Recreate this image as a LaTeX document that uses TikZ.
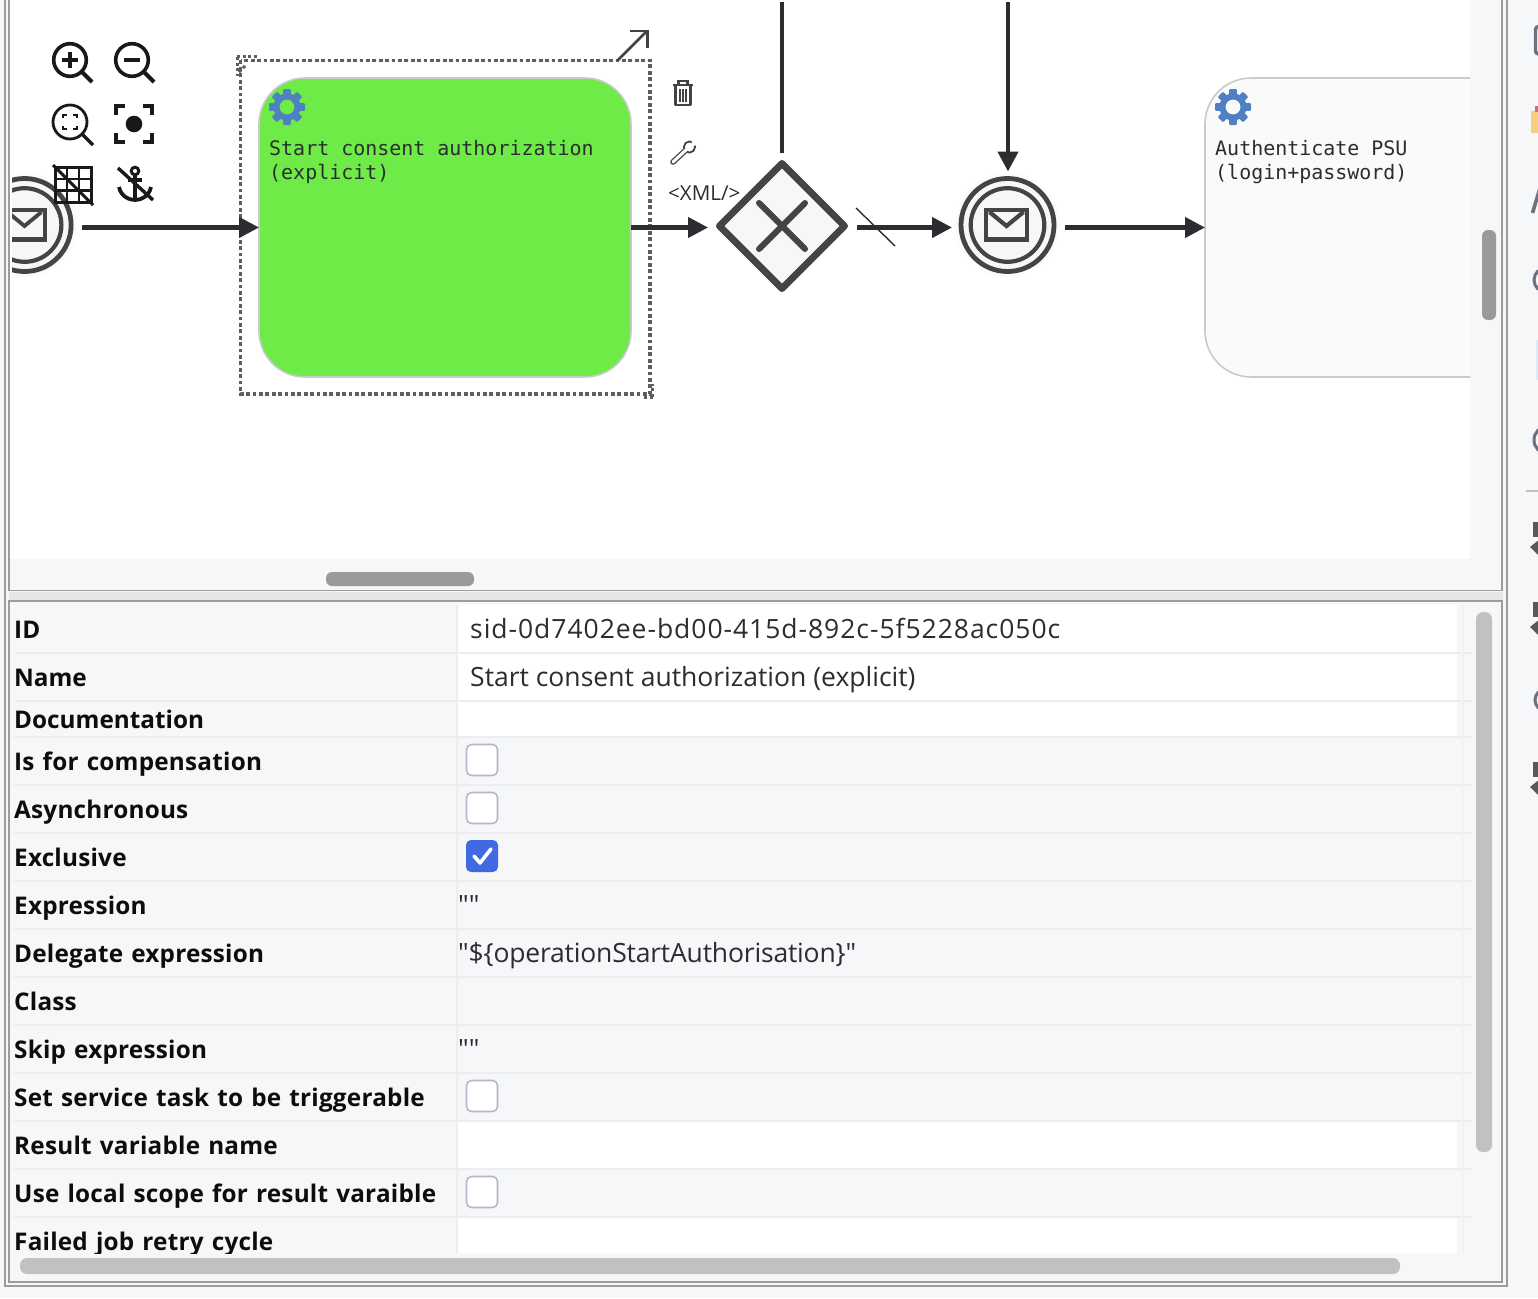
\documentclass[tikz,border=0pt]{standalone}
\usepackage{fontspec}
\usetikzlibrary{arrows.meta,shapes.geometric,calc}
\setmainfont{Open Sans}
\newfontfamily\lblfont{Open Sans}[WordSpace=1.25,LetterSpace=0.9]
\newfontfamily\lbltight{Open Sans}[WordSpace=1.25]
\newfontfamily\valfont{Open Sans}
\newfontfamily\monofont{DejaVu Sans Mono}
\definecolor{pagebg}{HTML}{F6F7F9}
\definecolor{softbg}{HTML}{FBFBFC}
\definecolor{frameline}{HTML}{9C9C9E}
\definecolor{rowline}{HTML}{ECEDEF}
\definecolor{rowfaint}{HTML}{F1F2F4}
\definecolor{ink}{HTML}{2B2D30}
\definecolor{shapeink}{HTML}{444446}
\definecolor{gearblue}{HTML}{4F80C4}
\definecolor{taskgreen}{HTML}{6EEB47}
\definecolor{taskline}{HTML}{C9CACB}
\definecolor{tasklight}{HTML}{FAFAFA}
\definecolor{boxline}{HTML}{B5B8C6}
\definecolor{checkblue}{HTML}{4169E1}
\definecolor{barmid}{HTML}{C1C1C3}
\definecolor{bardark}{HTML}{9A9A9C}
\definecolor{dotgray}{HTML}{5E5E60}
\definecolor{stripgray}{HTML}{6C7080}
\definecolor{stripyellow}{HTML}{F6CF7E}
\definecolor{stripred}{HTML}{C9707A}
\definecolor{stripblue}{HTML}{DCEBF8}
\tikzset{
  task/.style={rectangle,rounded corners=46pt,draw=taskline,line width=1.6pt,minimum width=#1,minimum height=299pt,inner sep=0pt,outer sep=0pt},
  evouter/.style={circle,draw=shapeink,line width=4.8pt,minimum size=93pt,inner sep=0pt,outer sep=0pt,fill=pagebg},
  evinner/.style={circle,draw=shapeink,line width=4.2pt,minimum size=73.6pt,inner sep=0pt,outer sep=0pt},
  flow/.style={draw=ink,line width=4.3pt,-{Triangle[length=20pt,width=20pt]}},
  plainflow/.style={draw=ink,line width=4.5pt},
  rowlabel/.style={anchor=base west,inner sep=0pt,font=\lblfont\bfseries\fontsize{24.3}{26}\selectfont,text=black!95},
  rowlabeltight/.style={anchor=base west,inner sep=0pt,font=\lbltight\bfseries\fontsize{24.3}{26}\selectfont,text=black!95},
  rowvalue/.style={anchor=base west,inner sep=0pt,font=\valfont\fontsize{26.5}{27}\selectfont,text=ink},
  tasktext/.style={anchor=base west,inner sep=0pt,font=\monofont\fontsize{19.96}{24}\selectfont,text=ink},
  chk/.style={rectangle,rounded corners=5pt,draw=boxline,line width=1.6pt,fill=white,minimum size=31pt,inner sep=0pt},
  chkon/.style={rectangle,rounded corners=5pt,fill=checkblue,minimum size=32pt,inner sep=0pt},
  tool/.style={line width=3.6pt,draw=black!90},
}
\newcommand{\gearicon}[3]{%
  \begin{scope}[shift={(#1,#2)}]
    \foreach \a in {0,45,...,315}
      \fill[gearblue,rotate=\a,rounded corners=1pt] (-3.8,-18) rectangle (3.8,-9);
    \fill[gearblue] (0,0) circle (13.6);
    \fill[#3] (0,0) circle (7.4);
  \end{scope}}
\newcommand{\envicon}[3]{%
  \begin{scope}[shift={(#1,#2)}]
    \draw[shapeink,line width=#3] (-20.5,-15) rectangle (20.5,15);
    \draw[shapeink,line width=#3,line join=miter] (-17,-13) -- (0,1) -- (17,-13);
    \draw[shapeink,line width=1.6pt] (-20,12.5) -- (20,12.5);
  \end{scope}}
\begin{document}
\begin{tikzpicture}[x=1pt,y=-1pt]
\useasboundingbox (0,0) rectangle (1538,1298);
\fill[pagebg] (0,0) rectangle (1538,1298);
% diagram canvas
\fill[white] (10,0) rectangle (1470,559);
% table backgrounds
\fill[white] (458,605) rectangle (1457,652);
\fill[white] (458,654) rectangle (1457,700);
\fill[white] (458,702) rectangle (1457,736);
\fill[white] (458,1122) rectangle (1457,1168);
\fill[white] (458,1218) rectangle (1457,1253);
\foreach \yy in {653,701,737,785,833,881,929,977,1025,1073,1121,1169,1217}
  \draw[rowline,line width=1.6pt] (14,\yy) -- (1472,\yy);
\draw[rowline,line width=1.2pt] (457,605) -- (457,1253);
\draw[rowfaint,line width=1.2pt] (1463,605) -- (1463,1253);
% frames
\fill[white!90!black] (9,592) rectangle (1503,600);
\draw[frameline,line width=2pt] (5,0) -- (5,1286) -- (1507,1286) -- (1507,0);
\draw[frameline,line width=1.4pt] (9,0) -- (9,590.5) -- (1502,590.5) -- (1502,0);
\draw[frameline,line width=1.4pt] (9,601) rectangle (1502,1282);
% scrollbars
\fill[bardark,rounded corners=6pt] (326,572) rectangle (474,586);
\fill[bardark,rounded corners=6pt] (1482,230) rectangle (1496,320);
\fill[barmid,rounded corners=7pt] (1476,612) rectangle (1492,1152);
\fill[barmid,rounded corners=7pt] (20,1258) rectangle (1400,1274);
% elements clipped by the canvas
\begin{scope}
  \clip (12,0) rectangle (1470,559);
  \fill[softbg] (24.6,225) circle (52);
  \node[evouter] (ev0) at (24.6,225) {};
  \node[evinner] (ev0i) at (24.6,225) {};
  \envicon{24.5}{225}{3.8pt}
  \node[task=400pt,fill=tasklight] (t2) at (1405,227.5) {};
\end{scope}
% green task
\node[task=372pt,fill=taskgreen] (t1) at (445,227.5) {};
\gearicon{287}{107}{taskgreen}
\node[tasktext] (t1a) at (269,155) {Start consent authorization};
\node[tasktext] (t1b) at (269,179) {(explicit)};
\gearicon{1233}{107}{tasklight}
\node[tasktext] (t2a) at (1215,155) {Authenticate PSU};
\node[tasktext] (t2b) at (1215,179) {(login+password)};
% selection box
\draw[dotgray,line width=3.8pt,dash pattern=on 3.8pt off 2.6pt] (240.5,60.5) rectangle (650,394);
\draw[dotgray,line width=3pt,dash pattern=on 3pt off 2.6pt] (237,57) -- (258,57);
\draw[dotgray,line width=3pt,dash pattern=on 3pt off 2.6pt] (237,57) -- (237,76);
\draw[dotgray,line width=3pt,dash pattern=on 3pt off 2.6pt] (245,66) -- (237,74);
\draw[dotgray,line width=3pt,dash pattern=on 3pt off 2.6pt] (653,397) -- (642,397);
\draw[dotgray,line width=3pt,dash pattern=on 3pt off 2.6pt] (652,397) -- (652,384);
% gateway and event
\node[diamond,aspect=1,draw=shapeink,fill=pagebg,line width=7pt,line join=round,minimum width=125pt,minimum height=125pt,inner sep=0pt,outer sep=0pt] (gw) at (782,226) {};
\draw[shapeink,line width=6pt,line cap=round] (759,203) -- (805,249) (805,203) -- (759,249);
\fill[softbg] (1007.5,225) circle (52);
\node[evouter] (ev1) at (1007.5,225) {};
\node[evinner] (ev1i) at (1007.5,225) {};
\envicon{1006.5}{225}{4.2pt}
% connectors
\coordinate (topa) at (782,2);
\coordinate (topb) at (1008,2);
\draw[flow,shorten <=11pt] (ev0.east |- t1.west) -- (t1.west);
\draw[flow,shorten >=11.5pt] (t1.east) -- (t1.east -| gw.west);
\draw[flow,shorten <=12.5pt,shorten >=9pt] (gw.east |- t1.east) -- (ev1.west |- t1.east);
\draw[flow,shorten <=11pt] (ev1.east |- t2.west) -- (t2.west);
\draw[plainflow] (topa) -- ([yshift=10.5pt]gw.north -| topa);
\draw[flow,shorten >=7pt] (topb) -- (topb |- ev1.north);
\draw[ink,line width=1.4pt] (856,208) -- (895,246);
% toolbar icons
\draw[tool] (70,60) circle (16.3);
\draw[tool,line width=4.2pt] (82,72) -- (92,82);
\draw[tool] (62,60) -- (78,60) (70,52) -- (70,68);
\draw[tool] (132,60) circle (16.3);
\draw[tool,line width=4.2pt] (144,72) -- (154,82);
\draw[tool] (124,60) -- (140,60);
\draw[tool,line width=2.8pt] (70,122) circle (17);
\draw[tool,line width=3.4pt] (82,134) -- (93,145);
\draw[tool,line width=2.6pt] (63,118) -- (63,115) -- (67,115) (73,115) -- (77,115) -- (77,118) (77,126) -- (77,129) -- (73,129) (67,129) -- (63,129) -- (63,126);
\draw[tool,line width=4.6pt] (116,115) -- (116,106) -- (125,106) (143,106) -- (152,106) -- (152,115) (152,133) -- (152,142) -- (143,142) (125,142) -- (116,142) -- (116,133);
\fill[black!90] (134,124) circle (8.3);
\draw[tool,line width=3pt] (55,167.5) rectangle (91,202);
\draw[tool,line width=2.5pt] (67,167.5) -- (67,202) (79,167.5) -- (79,202) (55,179) -- (91,179) (55,190.5) -- (91,190.5);
\draw[tool,line width=3pt] (53,165) -- (93,205);
\draw[tool,line width=3pt] (135,171) circle (3.8);
\draw[tool,line width=3.8pt] (135,175) -- (135,199) (128,180) -- (142,180);
\draw[tool,line width=3.8pt] (119,187) .. controls (121,197) and (130,200) .. (135,200) .. controls (140,200) and (149,197) .. (151,187);
\draw[tool,line width=3.4pt] (118,168) -- (153,200);
% task handles
\draw[shapeink,line width=2.6pt,line cap=round] (618,60) -- (647,31);
\draw[shapeink,line width=2.6pt] (630,31) -- (647.5,31) -- (647.5,48);
\draw[shapeink,line width=2.6pt] (673,85) -- (693,85);
\draw[shapeink,line width=2.2pt] (678.5,84) -- (678.5,81) -- (687.5,81) -- (687.5,84);
\draw[shapeink,line width=2.6pt,line join=round] (675.5,85) -- (675.5,105) -- (690.5,105) -- (690.5,85);
\draw[shapeink,line width=2pt] (680,89) -- (680,102) (683,89) -- (683,102) (686,89) -- (686,102);
\draw[shapeink,line width=5.6pt,line cap=round] (673,162) -- (686,150);
\draw[shapeink,line width=1.8pt,fill=white] (689.5,147) circle (5.6);
\fill[white] (690,147.5) -- (693,139.5) -- (698,144) -- cycle;
\draw[white,line width=3pt,line cap=round] (673,162) -- (687,149);
\node[anchor=base west,inner sep=0pt,font=\fontsize{20.6}{20}\selectfont,text=ink] (xml) at (668,200) {<XML/>};
% table labels
\node[rowlabel] (l1) at (14,638) {ID};
\node[rowlabeltight] (l2) at (14,686) {Name};
\node[rowlabeltight] (l3) at (14,728) {Documentation};
\node[rowlabel] (l4) at (14,770) {Is for compensation};
\node[rowlabel] (l5) at (14,818) {Asynchronous};
\node[rowlabel] (l6) at (14,866) {Exclusive};
\node[rowlabel] (l7) at (14,914) {Expression};
\node[rowlabel] (l8) at (14,962) {Delegate expression};
\node[rowlabel] (l9) at (14,1010) {Class};
\node[rowlabel] (l10) at (14,1058) {Skip expression};
\node[rowlabel] (l11) at (14,1106) {Set service task to be triggerable};
\node[rowlabel] (l12) at (14,1154) {Result variable name};
\node[rowlabel] (l13) at (14,1202) {Use local scope for result varaible};
\begin{scope}
  \clip (10,1225) rectangle (460,1253);
  \node[rowlabel] (l14) at (14,1250) {Failed job retry cycle};
\end{scope}
% table values
\node[rowvalue] (v1) at (470,638) {\addfontfeatures{LetterSpace=3.6}sid-0d7402ee-bd00-415d-892c-5f5228ac050c};
\node[rowvalue] (v2) at (470,686) {Start consent authorization (explicit)};
\node[rowvalue] (v7) at (458,914) {""};
\node[rowvalue] (v8) at (458,962) {\addfontfeatures{LetterSpace=-0.7}"\$\{operationStartAuthorisation\}"};
\node[rowvalue] (v10) at (458,1058) {""};
% checkboxes
\node[chk] (c4) at (482,760) {};
\node[chk] (c5) at (482,808) {};
\node[chkon] (c6) at (482,856) {};
\draw[white,line width=3.6pt,line cap=round,line join=round] (474,856) -- (480,863) -- (491,849);
\node[chk] (c11) at (482,1096) {};
\node[chk] (c13) at (482,1192) {};
% cut-off sidebar icons
\begin{scope}
  \clip (1508,0) rectangle (1538,1298);
  \draw[stripgray,line width=3.4pt,rounded corners=3pt] (1535.5,26.5) rectangle (1550,54);
  \fill[stripyellow] (1531,111) rectangle (1540,133);
  \fill[stripred] (1535,106) rectangle (1540,112);
  \draw[stripgray,line width=3.6pt] (1532.5,213) -- (1540,188);
  \draw[stripgray,line width=3pt] (1546,280) circle (12);
  \fill[stripblue] (1536,340) rectangle (1540,380);
  \draw[stripgray,line width=3pt] (1548,440) circle (14);
  \draw[black!25,line width=1.4pt] (1526,491) -- (1538,491);
  \foreach \yy in {522,602,762} {
    \fill[black!65] (1533,\yy) rectangle (1540,\yy+15);
    \fill[black!65] (1530,\yy+25) -- (1540,\yy+17) -- (1540,\yy+35) -- cycle;
  }
  \draw[stripgray,line width=3pt] (1546,700) circle (11);
\end{scope}
\end{tikzpicture}
\end{document}
